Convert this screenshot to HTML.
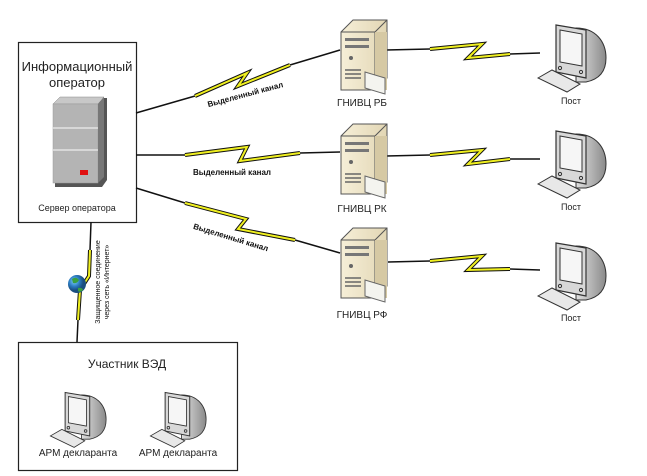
<!DOCTYPE html>
<html><head><meta charset="utf-8"><style>
html,body{margin:0;padding:0;background:#fff;}
svg{display:block;font-family:"Liberation Sans","Noto Sans CJK SC",sans-serif;}
</style></head><body>
<svg width="647" height="476" viewBox="0 0 647 476" xmlns="http://www.w3.org/2000/svg">
<defs>
<linearGradient id="gb" x1="0" x2="1"><stop offset="0" stop-color="#e0e0e0"/><stop offset="1" stop-color="#8a8a8a"/></linearGradient>
<linearGradient id="beige" x1="0" x2="1"><stop offset="0" stop-color="#f6efd8"/><stop offset="1" stop-color="#e2d6b4"/></linearGradient>
<radialGradient id="globe" cx="0.35" cy="0.35"><stop offset="0" stop-color="#7fd0ff"/><stop offset="0.6" stop-color="#2a7ac0"/><stop offset="1" stop-color="#1a4e80"/></radialGradient>
<g id="mon">
  <path d="M36 6 C56 6 66 20 66 36 C66 52 56 58 46 60 L36 60 Z" fill="url(#gb)" stroke="#333" stroke-width="1"/>
  <path d="M16 3 L46 8 L46 56 L16 50 Z" fill="#d8d8d8" stroke="#333" stroke-width="1.2"/>
  <path d="M20 8 L42 12 L42 44 L20 40 Z" fill="#f6f6f6" stroke="#333" stroke-width="1"/>
  <circle cx="20" cy="46" r="1.6" fill="none" stroke="#333"/><circle cx="41" cy="50" r="1.6" fill="none" stroke="#333"/>
  <path d="M-2 56 L12 48 L40 62 L27 70 Z" fill="#e8e8e8" stroke="#333" stroke-width="1"/>
</g>
<g id="srv">
  <path d="M0 12 L12 0 L46 0 L46 58 L34 70 L0 70 Z" fill="url(#beige)" stroke="#555" stroke-width="1"/>
  <path d="M0 12 L34 12 L46 0 M34 12 L34 70" fill="none" stroke="#555" stroke-width="1"/>
  <rect x="34" y="12" width="12" height="58" fill="#d6c9a4"/>
  <rect x="4" y="18" width="24" height="3" fill="#777"/><rect x="4" y="25" width="24" height="3" fill="#777"/>
  <circle cx="10" cy="38" r="2" fill="#666"/>
  <path d="M4 50 h16 M4 54 h16 M4 58 h16" stroke="#666" stroke-width="1.5"/>
  <path d="M24 52 L44 58 L44 74 L24 68 Z" fill="#f4f4ef" stroke="#666" stroke-width="1"/>
</g>
</defs>

<rect x="18.5" y="42.5" width="118" height="180" fill="#fff" stroke="#222" stroke-width="1.2"/>
<text x="77" y="71" font-size="13" text-anchor="middle" fill="#222">Информационный</text>
<text x="77" y="87" font-size="13" text-anchor="middle" fill="#222">оператор</text>
<path d="M55 106 L62 98 L107 98 L107 180 L102 187 L55 187 Z" fill="#555"/>
<path d="M53 104 L60 97 L104 97 L98 104 Z" fill="#c8c8c8" stroke="#888" stroke-width="0.5"/>
<rect x="53" y="104" width="45" height="79" fill="#b4b4b4" stroke="#999" stroke-width="0.5"/>
<path d="M98 104 L104 97 L104 177 L98 183 Z" fill="#777"/>
<path d="M53 128 h45 M53 150 h45" stroke="#ececec" stroke-width="1.2"/>
<rect x="80" y="170" width="8" height="5" fill="#e01010"/>
<text x="77" y="211" font-size="9" text-anchor="middle" fill="#222">Сервер оператора</text>

<g fill="none" stroke="#111" stroke-width="1.5">
  <path d="M136 113 L195 96 M290 65 L340 50"/>
  <path d="M136 155 L185 155 M300 153 L340 152"/>
  <path d="M136 188 L185 203 M295 240 L340 253"/>
  <path d="M386 50 L430 49 M510 54 L540 53"/>
  <path d="M386 156 L430 155 M510 159 L540 159"/>
  <path d="M388 262 L430 261 M510 269 L540 270"/>
  <path d="M91 222 L90 250 M78 320 L77 342"/>
</g>
<g fill="none" stroke-linejoin="miter">
  <g stroke="#111" stroke-width="4">
    <path d="M195 96 L247 73 L238 86 L290 65"/>
    <path d="M185 155 L247 147 L240 161 L300 153"/>
    <path d="M185 203 L246 219 L238 229 L295 240"/>
    <path d="M430 49 L482 44 L468 58 L510 54"/>
    <path d="M430 155 L482 150 L468 164 L510 159"/>
    <path d="M430 261 L482 256 L468 270 L510 269"/>
    <path d="M90 250 L89 276 L80 290 L78 320"/>
  </g>
  <g stroke="#f0f020" stroke-width="2">
    <path d="M195 96 L247 73 L238 86 L290 65"/>
    <path d="M185 155 L247 147 L240 161 L300 153"/>
    <path d="M185 203 L246 219 L238 229 L295 240"/>
    <path d="M430 49 L482 44 L468 58 L510 54"/>
    <path d="M430 155 L482 150 L468 164 L510 159"/>
    <path d="M430 261 L482 256 L468 270 L510 269"/>
    <path d="M90 250 L89 276 L80 290 L78 320"/>
  </g>
</g>
<circle cx="77" cy="284" r="9" fill="url(#globe)"/>
<path d="M72 279 q4 -3 7 1 q-2 4 -6 3 Z M78 288 q4 -1 5 2 q-3 3 -5 1Z" fill="#3aa040"/>

<text font-size="8" font-weight="bold" fill="#111" text-anchor="middle" transform="translate(246,97) rotate(-15)">Выделенный канал</text>
<text x="232" y="175" font-size="8" font-weight="bold" fill="#111" text-anchor="middle">Выделенный канал</text>
<text font-size="8" font-weight="bold" fill="#111" text-anchor="middle" transform="translate(230,240) rotate(17)">Выделенный канал</text>
<g transform="translate(100,282) rotate(-90)" font-size="7" fill="#111" text-anchor="middle">
  <text x="0" y="0">Защищенное соединение</text>
  <text x="0" y="9">через сеть «Интернет»</text>
</g>

<use href="#srv" x="341" y="20"/>
<use href="#srv" x="341" y="124"/>
<use href="#srv" x="341" y="228"/>
<text x="362" y="106" font-size="10" text-anchor="middle" fill="#222">ГНИВЦ РБ</text>
<text x="362" y="212" font-size="10" text-anchor="middle" fill="#222">ГНИВЦ РК</text>
<text x="362" y="318" font-size="10" text-anchor="middle" fill="#222">ГНИВЦ РФ</text>

<use href="#mon" x="540" y="22"/>
<use href="#mon" x="540" y="128"/>
<use href="#mon" x="540" y="240"/>
<text x="571" y="104" font-size="9" text-anchor="middle" fill="#222">Пост</text>
<text x="571" y="210" font-size="9" text-anchor="middle" fill="#222">Пост</text>
<text x="571" y="321" font-size="9" text-anchor="middle" fill="#222">Пост</text>

<rect x="18.5" y="342.5" width="219" height="128" fill="#fff" stroke="#222" stroke-width="1.2"/>
<text x="127" y="368" font-size="12" text-anchor="middle" fill="#222">Участник ВЭД</text>
<g transform="translate(52,390) scale(0.82)"><use href="#mon"/></g>
<g transform="translate(152,390) scale(0.82)"><use href="#mon"/></g>
<text x="78" y="456" font-size="10" text-anchor="middle" fill="#222">АРМ декларанта</text>
<text x="178" y="456" font-size="10" text-anchor="middle" fill="#222">АРМ декларанта</text>
</svg>
</body></html>
